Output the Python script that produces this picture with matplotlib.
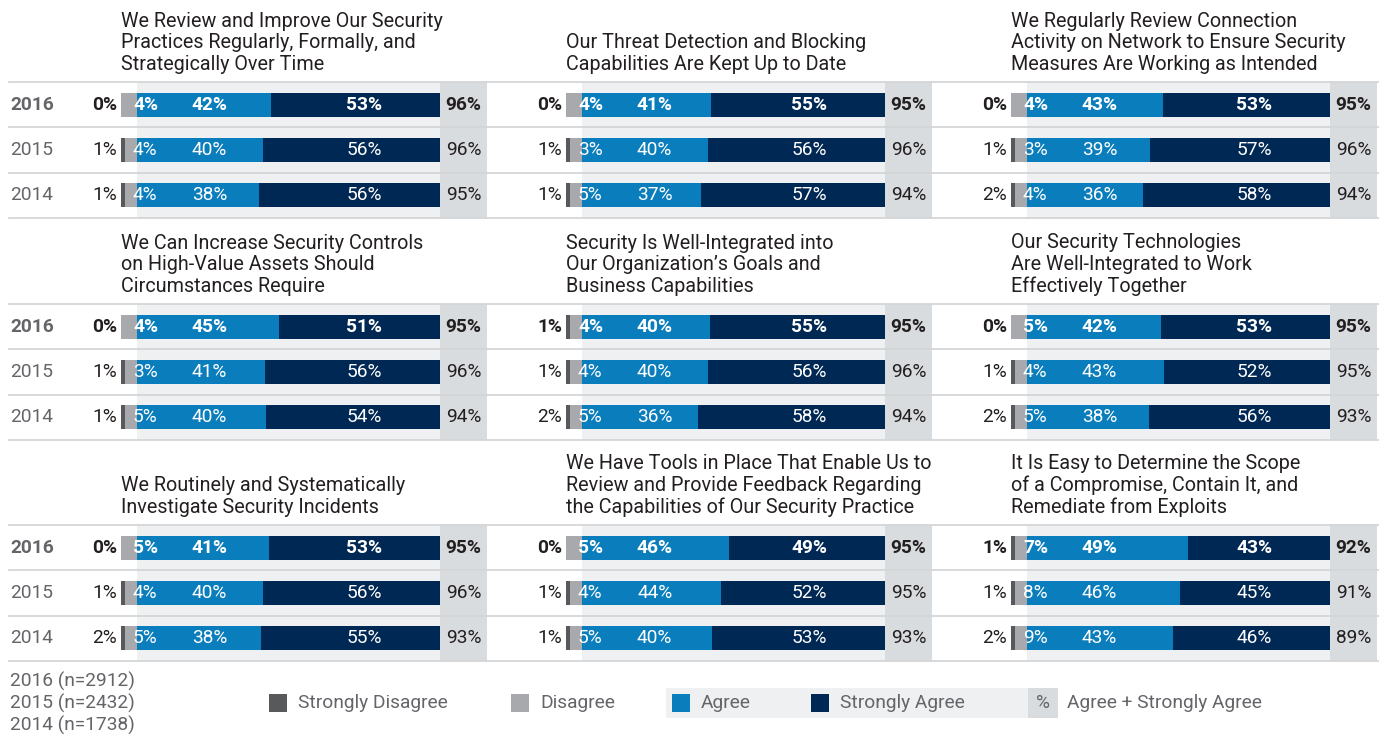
from matplotlib.lines import Line2D
from matplotlib.patches import Rectangle
from matplotlib.transforms import blended_transform_factory
import matplotlib.pyplot as plt


plt.rcParams["font.family"] = ["Roboto", "DejaVu Sans"]

W, H = 1386, 738

YEARS = ["2016", "2015", "2014"]
SAMPLE_N = [2912, 2432, 1738]

TITLES = [
	"We Review and Improve Our Security\nPractices Regularly, Formally, and\nStrategically Over Time",
	"Our Threat Detection and Blocking\nCapabilities Are Kept Up to Date",
	"We Regularly Review Connection\nActivity on Network to Ensure Security\nMeasures Are Working as Intended",
	"We Can Increase Security Controls\non High-Value Assets Should\nCircumstances Require",
	"Security Is Well-Integrated into\nOur Organization\u2019s Goals and\nBusiness Capabilities",
	"Our Security Technologies\nAre Well-Integrated to Work\nEffectively Together",
	"We Routinely and Systematically\nInvestigate Security Incidents",
	"We Have Tools in Place That Enable Us to\nReview and Provide Feedback Regarding\nthe Capabilities of Our Security Practice",
	"It Is Easy to Determine the Scope\nof a Compromise, Contain It, and\nRemediate from Exploits",
]

# rows per panel: 2016, 2015, 2014
STRONGLY_DISAGREE = [
	[0, 1, 1], [0, 1, 1], [0, 1, 2],
	[0, 1, 1], [1, 1, 2], [0, 1, 2],
	[0, 1, 2], [0, 1, 1], [1, 1, 2],
]
DISAGREE = [
	[4, 4, 4], [4, 3, 5], [4, 3, 4],
	[4, 3, 5], [4, 4, 5], [5, 4, 5],
	[5, 4, 5], [5, 4, 5], [7, 8, 9],
]
AGREE = [
	[42, 40, 38], [41, 40, 37], [43, 39, 36],
	[45, 41, 40], [40, 40, 36], [42, 43, 38],
	[41, 40, 38], [46, 44, 40], [49, 46, 43],
]
STRONGLY_AGREE = [
	[53, 56, 56], [55, 56, 57], [53, 57, 58],
	[51, 56, 54], [55, 56, 58], [53, 52, 56],
	[53, 56, 55], [49, 52, 53], [43, 45, 46],
]
TOTAL = [
	[96, 96, 95], [95, 96, 94], [95, 96, 94],
	[95, 96, 94], [95, 96, 94], [95, 95, 93],
	[95, 96, 93], [95, 95, 93], [92, 91, 89],
]

LEGEND_LABELS = ["Strongly Disagree", "Disagree", "Agree", "Strongly Agree"]

C_SD = "#58595b"
C_D = "#a7a9ac"
C_A = "#0a7dbc"
C_SA = "#002855"
C_BG = "#eff0f2"
C_BOX = "#d9dcde"
C_LINE = "#d3d5d7"
C_TEXT = "#231f20"
C_GREY = "#646569"

# layout in pixels
AGREE_X = [137, 582, 1027]
GROUP_TOP = [82, 304, 525]
GROUP_H = 136
BAR_PX = 303
BOX_PX = 47
LEFT_PX = 127
U = 100 / BAR_PX  # data units per pixel
DIS_W = 16 * U
SD_W = 4 * U
BAR_H = 0.53
FS = 13.8


def fx(px):
	return px / W


def fy(py):
	return 1 - py / H


fig = plt.figure(figsize=(W / 100, H / 100), dpi=100)

axes = []
for p in range(9):
	r, c = divmod(p, 3)
	a0 = AGREE_X[c]
	top = GROUP_TOP[r]
	ax = fig.add_axes([fx(a0 - LEFT_PX), fy(top + GROUP_H), (LEFT_PX + BAR_PX + BOX_PX) / W, GROUP_H / H])
	ax.set_xlim(-LEFT_PX * U, (BAR_PX + BOX_PX) * U)
	ax.set_ylim(2.5, -0.5)
	ax.axis("off")
	axes.append(ax)

	ax.add_patch(Rectangle((0, -0.5), 100, 3, color=C_BG, lw=0, zorder=0))
	ax.add_patch(Rectangle((100, -0.5), BOX_PX * U, 3, color=C_BOX, lw=0, zorder=0))

	for i in range(3):
		sd = STRONGLY_DISAGREE[p][i]
		d = DISAGREE[p][i]
		a = AGREE[p][i]
		sa = STRONGLY_AGREE[p][i]
		weight = "bold" if i == 0 else "normal"
		a_w = 100 * a / (a + sa)

		ax.barh(i, DIS_W, left=-DIS_W, height=BAR_H, color=C_D, zorder=2)
		if sd > 0:
			ax.barh(i, SD_W, left=-DIS_W, height=BAR_H, color=C_SD, zorder=3)
		ax.barh(i, a_w, left=0, height=BAR_H, color=C_A, zorder=2)
		ax.barh(i, 100 - a_w, left=a_w, height=BAR_H, color=C_SA, zorder=2)

		ax.text(-DIS_W - 4 * U, i, f"{sd}%", ha="right", va="center", fontsize=FS,
				color=C_TEXT, fontweight=weight)
		ax.text(-4 * U, i, f"{d}%", ha="left", va="center", fontsize=FS,
				color="white", fontweight=weight, zorder=4)
		ax.text(24, i, f"{a}%", ha="center", va="center", fontsize=FS,
				color="white", fontweight=weight, zorder=4)
		ax.text(75, i, f"{sa}%", ha="center", va="center", fontsize=FS,
				color="white", fontweight=weight, zorder=4)
		ax.text(100 + BOX_PX * U / 2, i, f"{TOTAL[p][i]}%", ha="center", va="center",
				fontsize=FS, color=C_TEXT, fontweight=weight, zorder=4)
		if c == 0:
			ax.text(-LEFT_PX * U, i, YEARS[i], ha="left", va="center", fontsize=FS,
					color=C_GREY, fontweight=weight)

	fig.text(fx(a0 - 16), fy(top - 8), TITLES[p], ha="left", va="bottom",
			 fontsize=14.2, color=C_TEXT, linespacing=1.17)

# separator lines across the full width
for r in range(3):
	ax = axes[r * 3]
	trans = blended_transform_factory(fig.transFigure, ax.transData)
	for yv in [-0.5, 0.5, 1.5, 2.5]:
		fig.add_artist(Line2D([fx(9), fx(1378)], [yv, yv], transform=trans,
							  color=C_LINE, lw=1.3, zorder=5))

# sample sizes
for k, (yr, n) in enumerate(zip(YEARS, SAMPLE_N)):
	fig.text(fx(10), fy(681 + 22 * k), f"{yr} (n={n})", ha="left", va="center",
			 fontsize=FS, color=C_GREY)

# legend
leg_y = 703
fig.patches.append(Rectangle((fx(666), fy(718)), (1028 - 666) / W, 30 / H,
							 transform=fig.transFigure, color=C_BG, lw=0, zorder=0))
fig.patches.append(Rectangle((fx(1028), fy(718)), 30 / W, 30 / H,
							 transform=fig.transFigure, color=C_BOX, lw=0, zorder=0))
leg_x = [269, 511, 672, 811]
for x0, lab, col in zip(leg_x, LEGEND_LABELS, [C_SD, C_D, C_A, C_SA]):
	fig.patches.append(Rectangle((fx(x0), fy(leg_y + 9)), 18 / W, 18 / H,
								 transform=fig.transFigure, color=col, lw=0, zorder=1))
	fig.text(fx(x0 + 29), fy(leg_y), lab, ha="left", va="center", fontsize=FS, color=C_GREY)
fig.text(fx(1043), fy(leg_y), "%", ha="center", va="center", fontsize=FS, color=C_GREY)
fig.text(fx(1067), fy(leg_y), "Agree + Strongly Agree", ha="left", va="center",
		 fontsize=FS, color=C_GREY)

fig.savefig("out.png", dpi=100, facecolor="white")
